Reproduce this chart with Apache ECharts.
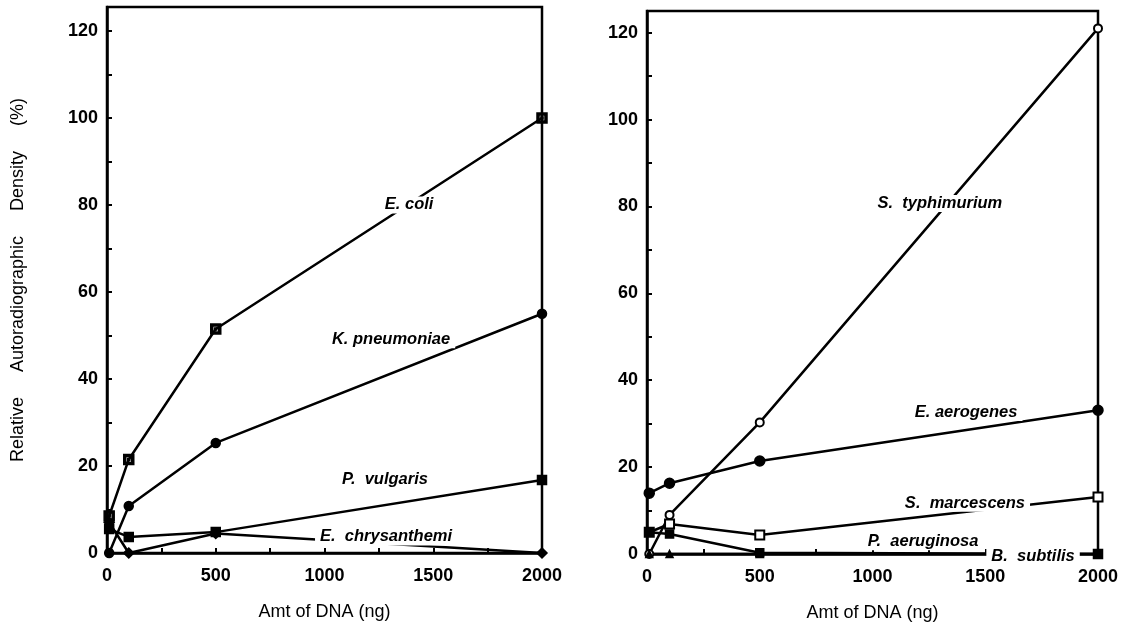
<!DOCTYPE html>
<html>
<head>
<meta charset="UTF-8">
<title>Relative autoradiographic density</title>
<script src="https://cdn.jsdelivr.net/npm/echarts@6/dist/echarts.min.js"></script>
<style>
  html, body { margin: 0; padding: 0; background: #fff; }
</style>
</head>
<body>
<div id="main" style="width: 1127px; height: 640px;"></div>
<script>
// amounts of DNA spotted (ng)
const dnaAmounts = [10, 100, 500, 2000];

// left panel (%)
const eColi = [8.5, 21.5, 51.5, 100];
const kPneumoniae = [0, 10.8, 25.3, 55];
const pVulgaris = [5.5, 3.7, 4.8, 16.8];
const eChrysanthemi = [7, 0, 4.5, 0];

// right panel (%)
const sTyphimurium = [0, 9, 30.3, 121];
const eAerogenes = [14, 16.3, 21.4, 33.1];
const sMarcescens = [5, 6.9, 4.4, 13.1];
const pAeruginosa = [5, 4.6, 0.3, 0];
const bSubtilis = [0, 0, 0, 0];

const yTicks = [0, 20, 40, 60, 80, 100, 120];
const xTicks = [0, 500, 1000, 1500, 2000];

const FONT = '"Liberation Sans", Arial, sans-serif';

function pts(vals) {
  return dnaAmounts.map((x, i) => [x, vals[i]]);
}

// species name placed on the curve, white box cuts the line like the original
function tag(text, x, y, dy) {
  return {
    symbol: 'circle',
    symbolSize: 1,
    silent: true,
    itemStyle: { color: 'rgba(0,0,0,0)' },
    data: [{ coord: [x, y], value: text }],
    label: {
      show: true,
      position: 'inside',
      offset: [0, dy || 0],
      formatter: text,
      color: '#000',
      fontFamily: FONT,
      fontStyle: 'italic',
      fontWeight: 'bold',
      fontSize: 16.5,
      backgroundColor: '#fff',
      padding: [0, 5]
    }
  };
}

function line(grid, vals, symbol, size, label) {
  return {
    type: 'line',
    xAxisIndex: grid,
    yAxisIndex: grid,
    data: pts(vals),
    symbol: symbol,
    symbolSize: size,
    showAllSymbol: true,
    lineStyle: { color: '#000', width: 2.5 },
    itemStyle: { color: '#000', borderColor: '#000', borderWidth: 1.5 },
    markPoint: label
  };
}

const dottedSquare = 'path://M0,0H10V10H0Z M2,2V8H8V2Z M4,4H6V6H4Z';

function xAxisFor(grid) {
  return {
    type: 'value',
    gridIndex: grid,
    min: 0,
    max: 2000,
    interval: 250,
    axisLine: { show: true, onZero: false, lineStyle: { color: '#000', width: 2.5 } },
    axisTick: { show: true, inside: true, length: 5, lineStyle: { color: '#000', width: 2 } },
    splitLine: { show: false },
    axisLabel: {
      formatter: v => xTicks.includes(v) ? String(v) : '',
      color: '#000', fontFamily: FONT, fontWeight: 'bold', fontSize: 18, margin: 14
    },
    name: 'Amt of DNA (ng)',
    nameLocation: 'middle',
    nameGap: 50,
    nameTextStyle: { color: '#000', fontFamily: FONT, fontSize: 18 }
  };
}

function yAxisFor(grid, max, withName) {
  return {
    type: 'value',
    gridIndex: grid,
    min: 0,
    max: max,
    interval: 10,
    axisLine: { show: true, onZero: false, lineStyle: { color: '#000', width: 2.5 } },
    axisTick: { show: true, inside: true, length: 5, lineStyle: { color: '#000', width: 2 } },
    splitLine: { show: false },
    axisLabel: {
      formatter: v => yTicks.includes(v) ? String(v) : '',
      color: '#000', fontFamily: FONT, fontWeight: 'bold', fontSize: 18, margin: 9
    },
    name: withName ? 'Relative     Autoradiographic     Density     (%)' : '',
    nameLocation: 'middle',
    nameGap: 80,
    nameTextStyle: { color: '#000', fontFamily: FONT, fontSize: 18 }
  };
}

const chart = echarts.init(document.getElementById('main'), null, { renderer: 'canvas' });

const option = {
  animation: false,
  backgroundColor: '#fff',
  grid: [
    { left: 107, top: 7, width: 435, height: 546, show: true, borderColor: '#000', borderWidth: 2.5 },
    { left: 647, top: 11, width: 451, height: 543, show: true, borderColor: '#000', borderWidth: 2.5 }
  ],
  xAxis: [xAxisFor(0), xAxisFor(1)],
  yAxis: [yAxisFor(0, 125.5, true), yAxisFor(1, 125, false)],
  series: [
    line(0, eColi, dottedSquare, 10, tag('E. coli', 1389, 80)),
    line(0, kPneumoniae, 'circle', 9, tag('K. pneumoniae', 1306, 49)),
    line(0, pVulgaris, 'rect', 9, tag('P.  vulgaris', 1278, 16.8)),
    line(0, eChrysanthemi, 'diamond', 10, tag('E.  chrysanthemi', 1283, 3.7)),

    line(1, sTyphimurium, 'emptyCircle', 8, tag('S.  typhimurium', 1299, 80.7)),
    line(1, eAerogenes, 'circle', 10, tag('E. aerogenes', 1415, 32.6)),
    line(1, sMarcescens, 'emptyRect', 9, tag('S.  marcescens', 1410, 11.7)),
    line(1, pAeruginosa, 'rect', 8, tag('P.  aeruginosa', 1224, 2.8)),
    Object.assign(line(1, bSubtilis, 'triangle', 7, tag('B.  subtilis', 1712, 0, 2)), {
      data: pts(bSubtilis).map((p, i) => i === dnaAmounts.length - 1
        ? { value: p, symbol: 'rect', symbolSize: 9 }
        : p)
    })
  ]
};

chart.setOption(option);
</script>
</body>
</html>
